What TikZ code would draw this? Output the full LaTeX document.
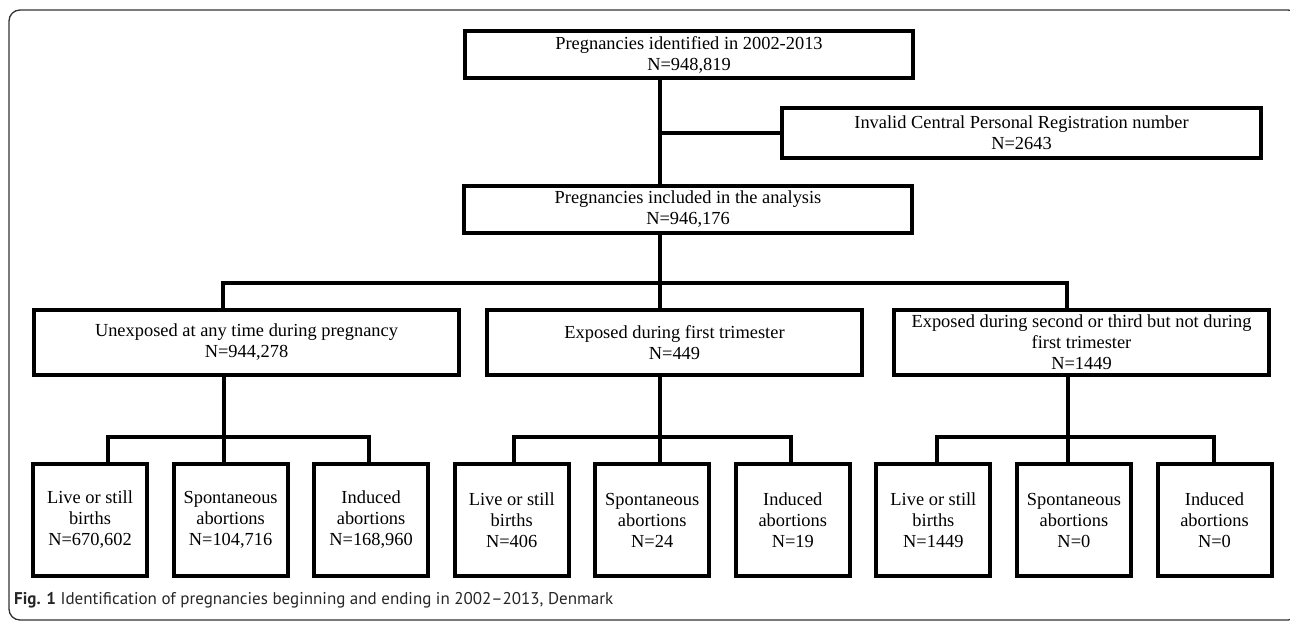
\documentclass[tikz,border=0pt]{standalone}
\usepackage{fontspec}
\setmainfont{Liberation Serif}
\newfontfamily\capfont[Ligatures=TeX]{PT Sans}
\newcommand{\boxfont}{\fontsize{18.4}{21}\selectfont}

\begin{document}
\begin{tikzpicture}[x=1pt, y=-1pt,
    box/.style={draw, line width=4pt, inner sep=1pt, align=center, font=\boxfont},
    wide/.style={box, minimum height=47pt},
    mid/.style={box, minimum height=65pt},
    leaf/.style={box, minimum width=114pt, minimum height=112pt},
    link/.style={line width=4pt},
    frame/.style={line width=1.3pt, black!80, rounded corners=11pt}
  ]
  \useasboundingbox (0,0) rectangle (1290,622);
  \draw[frame] (9,10) rectangle (1299,620);

  \node[wide, minimum width=448pt] (ident) at (689,54.5) {Pregnancies identified in 2002-2013\\N=948,819};
  \node[wide, minimum width=479pt, minimum height=50pt] (inval) at (1021.5,133) {Invalid Central Personal Registration number\\N=2643};
  \node[wide, minimum width=448pt] (incl) at (688,209.5) {Pregnancies included in the analysis\\N=946,176};

  \node[mid, minimum width=425pt] (unexp) at (246.5,342.5) {Unexposed at any time during pregnancy\\N=944,278};
  \node[mid, minimum width=375pt] (first) at (674.5,342.5) {Exposed during first trimester\\N=449};
  \node[mid, minimum width=375pt] (later) at (1081.5,342.5) {Exposed during second or third but not during\\first trimester\\N=1449};

  % outcomes
  \node[leaf] (u1) at (90,520)     {Live or still\\births\\N=670,602};
  \node[leaf] (u2) at (230.6,520)  {Spontaneous\\abortions\\N=104,716};
  \node[leaf] (u3) at (371.1,520)  {Induced\\abortions\\N=168,960};
  \node[leaf] (f1) at (511.7,520)  {Live or still\\births\\N=406};
  \node[leaf] (f2) at (652.2,520)  {Spontaneous\\abortions\\N=24};
  \node[leaf] (f3) at (792.8,520)  {Induced\\abortions\\N=19};
  \node[leaf] (l1) at (933.4,520)  {Live or still\\births\\N=1449};
  \node[leaf] (l2) at (1073.9,520) {Spontaneous\\abortions\\N=0};
  \node[leaf] (l3) at (1214.5,520) {Induced\\abortions\\N=0};

  \coordinate (tr) at (660,133);
  \draw[link] (ident.south -| tr) -- (incl.north -| tr);
  \draw[link] (tr) -- (inval.west);

  \coordinate (sa) at (223,283);
  \coordinate (sb) at (660,283);
  \coordinate (sc) at (1067,283);
  \draw[link] (incl.south -| sb) -- (first.north -| sb);
  \draw[link] (unexp.north -| sa) -- (sa) -- (sc) -- (later.north -| sc);

  \coordinate (ua) at (107.5,437); \coordinate (ub) at (224,437); \coordinate (uc) at (369,437);
  \coordinate (fa) at (514,437);   \coordinate (fb) at (660,437); \coordinate (fc) at (791,437);
  \coordinate (la) at (937,437);   \coordinate (lb) at (1068,437); \coordinate (lc) at (1214,437);
  \draw[link] (unexp.south -| ub) -- (u2.north -| ub);
  \draw[link] (u1.north -| ua) -- (ua) -- (uc) -- (u3.north -| uc);
  \draw[link] (first.south -| fb) -- (f2.north -| fb);
  \draw[link] (f1.north -| fa) -- (fa) -- (fc) -- (f3.north -| fc);
  \draw[link] (later.south -| lb) -- (l2.north -| lb);
  \draw[link] (l1.north -| la) -- (la) -- (lc) -- (l3.north -| lc);

  \node[anchor=base west, inner sep=0pt, text=black!85,
        font=\capfont\fontsize{17}{20}\selectfont] (cap) at (14,604)
    {\textbf{Fig. 1} Identification of pregnancies beginning and ending in 2002--2013, Denmark};
\end{tikzpicture}
\end{document}
